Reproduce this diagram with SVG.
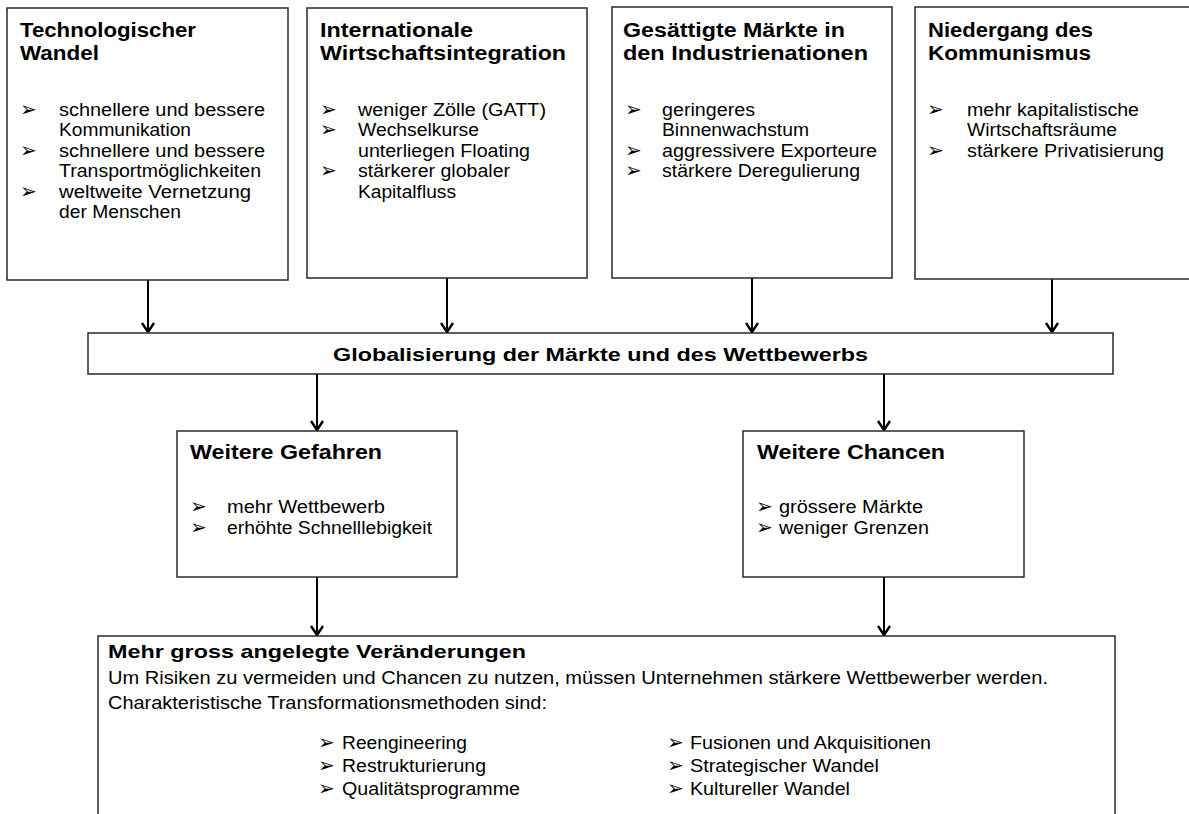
<svg xmlns="http://www.w3.org/2000/svg" width="1189" height="814" viewBox="0 0 1189 814">
  <style>
    .box { fill: #ffffff; stroke: #2a2a2a; stroke-width: 1.5; }
    .ttl { font-family: "Liberation Sans", Arial, sans-serif; font-weight: bold; font-size: 20px; fill: #000; }
    .txt { font-family: "Liberation Sans", Arial, sans-serif; font-size: 17.5px; fill: #000; }
    .bul { font-family: "DejaVu Sans", sans-serif; font-size: 20px; fill: #000; }
    .con { stroke: #000; stroke-width: 2; fill: none; marker-end: url(#arr); }
  </style>
  <defs>
    <marker id="arr" markerWidth="14" markerHeight="16" viewBox="-12 -8 14 16" refX="0" refY="0" orient="auto" markerUnits="userSpaceOnUse" overflow="visible">
      <path d="M-9,-6 L0,0 L-9,6" stroke="#000" stroke-width="2.4" fill="none" stroke-linejoin="miter"/>
    </marker>
  </defs>
  <rect width="1189" height="814" fill="#ffffff"/>

  <g id="connectors">
    <line class="con" x1="148" y1="280" x2="148" y2="332"/>
    <line class="con" x1="447" y1="278" x2="447" y2="332"/>
    <line class="con" x1="752" y1="278" x2="752" y2="332"/>
    <line class="con" x1="1052" y1="279" x2="1052" y2="332"/>
    <line class="con" x1="317" y1="374" x2="317" y2="430"/>
    <line class="con" x1="884" y1="374" x2="884" y2="430"/>
    <line class="con" x1="317" y1="577" x2="317" y2="635"/>
    <line class="con" x1="884" y1="577" x2="884" y2="635"/>
  </g>

  <g id="tech">
    <rect class="box" x="7" y="8" width="281" height="272"/>
    <text class="ttl" x="20" y="37" textLength="176" lengthAdjust="spacingAndGlyphs">Technologischer</text>
    <text class="ttl" x="20" y="60" textLength="79" lengthAdjust="spacingAndGlyphs">Wandel</text>
    <text class="bul" x="20" y="116">➢</text>
    <text class="txt" x="59" y="116" textLength="206" lengthAdjust="spacingAndGlyphs">schnellere und bessere</text>
    <text class="txt" x="59" y="136" textLength="132" lengthAdjust="spacingAndGlyphs">Kommunikation</text>
    <text class="bul" x="20" y="157">➢</text>
    <text class="txt" x="59" y="157" textLength="206" lengthAdjust="spacingAndGlyphs">schnellere und bessere</text>
    <text class="txt" x="59" y="177" textLength="202" lengthAdjust="spacingAndGlyphs">Transportmöglichkeiten</text>
    <text class="bul" x="20" y="198">➢</text>
    <text class="txt" x="59" y="198" textLength="192" lengthAdjust="spacingAndGlyphs">weltweite Vernetzung</text>
    <text class="txt" x="59" y="218" textLength="122" lengthAdjust="spacingAndGlyphs">der Menschen</text>
  </g>

  <g id="integration">
    <rect class="box" x="307" y="8" width="280" height="270"/>
    <text class="ttl" x="320" y="37" textLength="153" lengthAdjust="spacingAndGlyphs">Internationale</text>
    <text class="ttl" x="320" y="60" textLength="246" lengthAdjust="spacingAndGlyphs">Wirtschaftsintegration</text>
    <text class="bul" x="320" y="116">➢</text>
    <text class="txt" x="358" y="116" textLength="188" lengthAdjust="spacingAndGlyphs">weniger Zölle (GATT)</text>
    <text class="bul" x="320" y="136">➢</text>
    <text class="txt" x="358" y="136" textLength="121" lengthAdjust="spacingAndGlyphs">Wechselkurse</text>
    <text class="txt" x="358" y="157" textLength="172" lengthAdjust="spacingAndGlyphs">unterliegen Floating</text>
    <text class="bul" x="320" y="177">➢</text>
    <text class="txt" x="358" y="177" textLength="152" lengthAdjust="spacingAndGlyphs">stärkerer globaler</text>
    <text class="txt" x="358" y="198" textLength="98" lengthAdjust="spacingAndGlyphs">Kapitalfluss</text>
  </g>

  <g id="markets">
    <rect class="box" x="612" y="7" width="280" height="271"/>
    <text class="ttl" x="623" y="37" textLength="222" lengthAdjust="spacingAndGlyphs">Gesättigte Märkte in</text>
    <text class="ttl" x="623" y="60" textLength="245" lengthAdjust="spacingAndGlyphs">den Industrienationen</text>
    <text class="bul" x="625" y="116">➢</text>
    <text class="txt" x="662" y="116" textLength="93" lengthAdjust="spacingAndGlyphs">geringeres</text>
    <text class="txt" x="662" y="136" textLength="147" lengthAdjust="spacingAndGlyphs">Binnenwachstum</text>
    <text class="bul" x="625" y="157">➢</text>
    <text class="txt" x="662" y="157" textLength="215" lengthAdjust="spacingAndGlyphs">aggressivere Exporteure</text>
    <text class="bul" x="625" y="177">➢</text>
    <text class="txt" x="662" y="177" textLength="198" lengthAdjust="spacingAndGlyphs">stärkere Deregulierung</text>
  </g>

  <g id="communism">
    <rect class="box" x="915" y="7" width="290" height="272"/>
    <text class="ttl" x="928" y="37" textLength="165" lengthAdjust="spacingAndGlyphs">Niedergang des</text>
    <text class="ttl" x="928" y="60" textLength="163" lengthAdjust="spacingAndGlyphs">Kommunismus</text>
    <text class="bul" x="927" y="116">➢</text>
    <text class="txt" x="967" y="116" textLength="172" lengthAdjust="spacingAndGlyphs">mehr kapitalistische</text>
    <text class="txt" x="967" y="136" textLength="150" lengthAdjust="spacingAndGlyphs">Wirtschaftsräume</text>
    <text class="bul" x="927" y="157">➢</text>
    <text class="txt" x="967" y="157" textLength="197" lengthAdjust="spacingAndGlyphs">stärkere Privatisierung</text>
  </g>

  <g id="globalisation">
    <rect class="box" x="88" y="333" width="1025" height="41"/>
    <text class="ttl" x="333" y="361" style="font-size:19px" textLength="535" lengthAdjust="spacingAndGlyphs">Globalisierung der Märkte und des Wettbewerbs</text>
  </g>

  <g id="risks">
    <rect class="box" x="177" y="431" width="280" height="146"/>
    <text class="ttl" x="190" y="459" textLength="192" lengthAdjust="spacingAndGlyphs">Weitere Gefahren</text>
    <text class="bul" x="190" y="513">➢</text>
    <text class="txt" x="227" y="513" textLength="158" lengthAdjust="spacingAndGlyphs">mehr Wettbewerb</text>
    <text class="bul" x="190" y="534">➢</text>
    <text class="txt" x="227" y="534" textLength="205" lengthAdjust="spacingAndGlyphs">erhöhte Schnelllebigkeit</text>
  </g>

  <g id="chances">
    <rect class="box" x="743" y="431" width="281" height="146"/>
    <text class="ttl" x="757" y="459" textLength="188" lengthAdjust="spacingAndGlyphs">Weitere Chancen</text>
    <text class="bul" x="756" y="513">➢</text>
    <text class="txt" x="779" y="513" textLength="144" lengthAdjust="spacingAndGlyphs">grössere Märkte</text>
    <text class="bul" x="756" y="534">➢</text>
    <text class="txt" x="779" y="534" textLength="150" lengthAdjust="spacingAndGlyphs">weniger Grenzen</text>
  </g>

  <g id="change">
    <rect class="box" x="98" y="636" width="1017" height="200"/>
    <text class="ttl" x="108" y="658" style="font-size:19px" textLength="418" lengthAdjust="spacingAndGlyphs">Mehr gross angelegte Veränderungen</text>
    <text class="txt" x="108" y="684" textLength="940" lengthAdjust="spacingAndGlyphs">Um Risiken zu vermeiden und Chancen zu nutzen, müssen Unternehmen  stärkere Wettbewerber werden.</text>
    <text class="txt" x="108" y="709" textLength="439" lengthAdjust="spacingAndGlyphs">Charakteristische Transformationsmethoden  sind:</text>
    <text class="bul" x="318" y="749">➢</text>
    <text class="txt" x="342" y="749" textLength="125" lengthAdjust="spacingAndGlyphs">Reengineering</text>
    <text class="bul" x="318" y="772">➢</text>
    <text class="txt" x="342" y="772" textLength="144" lengthAdjust="spacingAndGlyphs">Restrukturierung</text>
    <text class="bul" x="318" y="795">➢</text>
    <text class="txt" x="342" y="795" textLength="178" lengthAdjust="spacingAndGlyphs">Qualitätsprogramme</text>
    <text class="bul" x="667" y="749">➢</text>
    <text class="txt" x="690" y="749" textLength="241" lengthAdjust="spacingAndGlyphs">Fusionen und Akquisitionen</text>
    <text class="bul" x="667" y="772">➢</text>
    <text class="txt" x="690" y="772" textLength="189" lengthAdjust="spacingAndGlyphs">Strategischer Wandel</text>
    <text class="bul" x="667" y="795">➢</text>
    <text class="txt" x="690" y="795" textLength="160" lengthAdjust="spacingAndGlyphs">Kultureller Wandel</text>
  </g>
</svg>
